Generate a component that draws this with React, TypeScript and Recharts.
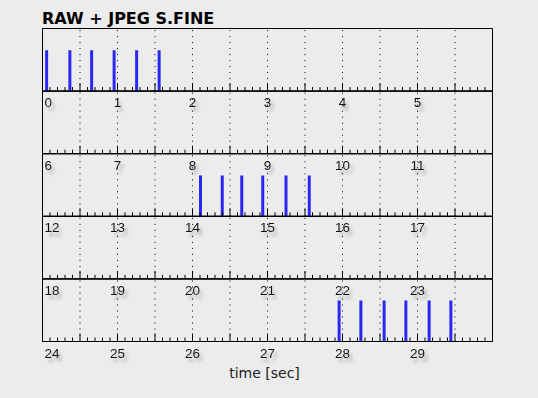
import React from 'react';
import { BarChart, Bar, XAxis, YAxis, ReferenceLine, ReferenceArea } from 'recharts';

// one row = 6 seconds of the burst timeline
const ROW_STARTS = [0, 6, 12, 18, 24];
const ROW_SPAN = 6;
// moments a frame was written (seconds)
const SHOT_TIMES = [
  0.06, 0.37, 0.66, 0.96, 1.26, 1.56,
  14.11, 14.4, 14.66, 14.94, 15.25, 15.56,
  27.96, 28.25, 28.56, 28.85, 29.16, 29.45,
];
const SHOT_VALUE = 1;
const TITLE = 'RAW + JPEG S.FINE';
const X_TITLE = 'time [sec]';

const W = 538;
const H = 398;
const LEFT = 42.5;
const RIGHT = 492.5;
const TOP = 28.5;
const ROW_H = 62.6;
const AXIS_H = 30;

const bg = '#ececec';
const barColor = '#2828f0';

const TimeTick = (props: any) => {
  const { x, y, payload, start } = props;
  const v = Math.round(payload.value * 10) / 10;
  const rel = Math.round((v - start) * 10);
  const major = rel % 5 === 0;
  const labelled = rel % 10 === 0 && rel < 60;
  const len = major ? 8 : 4;
  return (
    <g>
      {rel > 0 && rel < 60 && (
        <line x1={x} x2={x} y1={y} y2={y - len} stroke="#000" strokeWidth={1} />
      )}
      {labelled && (
        <text
          x={rel === 0 ? x + 2 : x}
          y={y + 16}
          textAnchor={rel === 0 ? 'start' : 'middle'}
          fontSize={13.5}
          fontFamily="'Liberation Sans', Arial, sans-serif"
          fill="#111"
          filter="url(#lblShadow)"
        >
          {Math.round(v)}
        </text>
      )}
    </g>
  );
};

const Row = ({ index }: { index: number }) => {
  const start = ROW_STARTS[index];
  const end = start + ROW_SPAN;
  const data = SHOT_TIMES.filter((t) => t >= start && t < end).map((t) => ({ t, v: SHOT_VALUE }));
  const ticks: number[] = [];
  for (let i = 0; i <= 60; i++) ticks.push(start + i / 10);
  const halfMarks: number[] = [];
  for (let i = 1; i < 12; i++) halfMarks.push(start + i / 2);
  const top = TOP + index * ROW_H;

  return (
    <div style={{ position: 'absolute', left: 0, top: 0 }}>
      <BarChart
        width={W}
        height={H}
        data={data}
        margin={{ top, bottom: H - top - ROW_H - AXIS_H, left: LEFT, right: W - RIGHT }}
        barSize={3}
      >
        <XAxis
          dataKey="t"
          type="number"
          domain={[start, end]}
          ticks={ticks}
          interval={0}
          tickLine={false}
          tickSize={0}
          tickMargin={0}
          height={AXIS_H}
          axisLine={{ stroke: '#000' }}
          tick={<TimeTick start={start} />}
          allowDataOverflow
        />
        <YAxis domain={[0, 1.53]} hide allowDataOverflow />
        {halfMarks.map((m) => (
          <ReferenceLine key={m} x={m} stroke="#000" strokeDasharray="1 5" strokeWidth={1} />
        ))}
        <ReferenceArea
          x1={start}
          x2={end}
          y1={0}
          y2={1.53}
          fill="none"
          stroke="#000"
          strokeWidth={1}
        />
        <Bar dataKey="v" fill={barColor} isAnimationActive={false} />
      </BarChart>
    </div>
  );
};

export default function App() {
  return (
    <div
      style={{
        position: 'absolute',
        left: 0,
        top: 0,
        width: W,
        height: H,
        background: bg,
        overflow: 'hidden',
      }}
    >
      <svg width={0} height={0} style={{ position: 'absolute' }}>
        <defs>
          <filter id="lblShadow" x="-50%" y="-50%" width="250%" height="250%">
            <feGaussianBlur in="SourceAlpha" stdDeviation="1.4" />
            <feOffset dx="3" dy="4" result="blur" />
            <feFlood floodColor="#888" floodOpacity="0.6" />
            <feComposite in2="blur" operator="in" />
            <feMerge>
              <feMergeNode />
              <feMergeNode in="SourceGraphic" />
            </feMerge>
          </filter>
        </defs>
      </svg>
      <div
        style={{
          position: 'absolute',
          left: 42,
          top: 9,
          fontFamily: "'DejaVu Sans', sans-serif",
          fontWeight: 'bold',
          fontSize: 16,
          lineHeight: '20px',
          color: '#000',
        }}
      >
        {TITLE}
      </div>
      {ROW_STARTS.map((_, i) => (
        <Row key={i} index={i} />
      ))}
      <div
        style={{
          position: 'absolute',
          left: 0,
          width: 529,
          top: 365,
          textAlign: 'center',
          fontFamily: "'DejaVu Sans', sans-serif",
          fontSize: 14,
          color: '#222',
        }}
      >
        {X_TITLE}
      </div>
    </div>
  );
}
